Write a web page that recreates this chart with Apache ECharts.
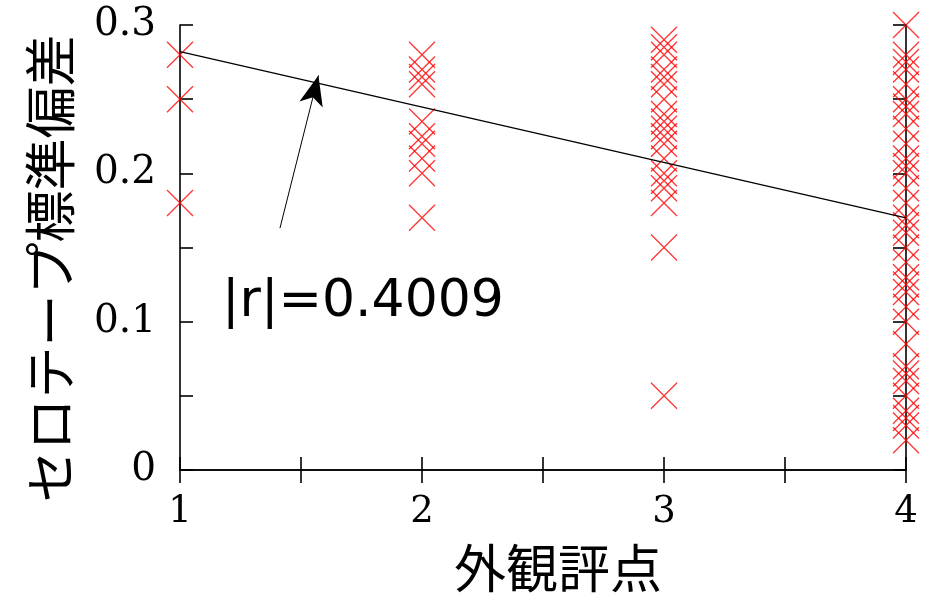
<!DOCTYPE html>
<html lang="ja">
<head>
    <meta charset="UTF-8">
    <title>外観評点とセロテープ標準偏差</title>
    <script src="https://cdn.jsdelivr.net/npm/echarts@6/dist/echarts.min.js"></script>
</head>
<body style="margin:0;background:#fff">
<div id="main" style="width: 927px;height: 599px"></div>
<script>
    var myChart = echarts.init(document.getElementById('main'));

    // 外観評点ごとのセロテープ標準偏差
    var scores = [1, 2, 3, 4];
    var sd1 = [0.28, 0.25, 0.18];
    var sd2 = [0.28, 0.27, 0.265, 0.26, 0.235, 0.225, 0.22, 0.21, 0.20, 0.17];
    var sd3 = [0.29, 0.285, 0.28, 0.27, 0.265, 0.26, 0.25, 0.24, 0.235, 0.23, 0.225, 0.22,
               0.21, 0.20, 0.195, 0.19, 0.18, 0.15, 0.05];
    var sd4 = [0.30, 0.28, 0.275, 0.27, 0.26, 0.25, 0.245, 0.24, 0.23, 0.22, 0.21, 0.205,
               0.20, 0.19, 0.18, 0.17, 0.165, 0.16, 0.15, 0.14, 0.13, 0.125, 0.12, 0.11,
               0.10, 0.085, 0.07, 0.065, 0.06, 0.05, 0.04, 0.035, 0.03, 0.02];
    // 回帰直線の両端
    var fitX = [1, 4];
    var fitY = [0.282, 0.170];
    var rText = '|r|=0.4009';

    var groups = [sd1, sd2, sd3, sd4];
    var points = [];
    groups.forEach(function (arr, i) {
        arr.forEach(function (v) { points.push([scores[i], v]); });
    });
    var fitData = fitX.map(function (x, i) { return [x, fitY[i]]; });

    var cross = 'path://M0,0L10,10M10,0L0,10';
    var numFont = 'DejaVu Serif';
    var jpFont = 'Noto Sans CJK JP';

    function isWhole(v, k) {
        return Math.abs(v * k - Math.round(v * k)) < 1e-6;
    }

    var frameAxis = {
        axisLine: {show: true, lineStyle: {color: '#000', width: 1.6}},
        axisTick: {show: true, inside: true, length: 13, lineStyle: {color: '#000', width: 1.6}},
        splitLine: {show: false}
    };

    option = {
        backgroundColor: '#fff',
        animation: false,
        grid: {left: 180, right: 21, top: 25, bottom: 125},
        xAxis: [
            Object.assign({
                type: 'value', min: 1, max: 4, interval: 0.5, position: 'bottom',
                name: '外観評点', nameLocation: 'middle', nameGap: 72,
                nameTextStyle: {fontFamily: jpFont, fontSize: 52, color: '#000', padding: [0, 0, 0, 30]},
                axisLabel: {
                    margin: 24, color: '#000', fontFamily: numFont, fontSize: 37,
                    formatter: function (v) { return isWhole(v, 1) ? String(v) : ''; }
                }
            }, frameAxis),
            Object.assign({
                type: 'value', min: 1, max: 4, interval: 0.5, position: 'top',
                axisLabel: {show: false}
            }, frameAxis)
        ],
        yAxis: [
            Object.assign({
                type: 'value', min: 0, max: 0.3, interval: 0.05, position: 'left',
                name: 'セロテープ標準偏差', nameLocation: 'middle', nameGap: 104,
                nameTextStyle: {fontFamily: jpFont, fontSize: 52, color: '#000', padding: [0, 42, 0, 0]},
                axisLabel: {
                    margin: 24, color: '#000', fontFamily: numFont, fontSize: 39,
                    formatter: function (v) { return isWhole(v, 10) ? String(Math.round(v * 10) / 10) : ''; }
                }
            }, frameAxis),
            Object.assign({
                type: 'value', min: 0, max: 0.3, interval: 0.05, position: 'right',
                axisLabel: {show: false}
            }, frameAxis)
        ],
        graphic: [{
            type: 'text', left: 222, top: 276, z: 10,
            style: {text: rText, font: '52px "DejaVu Sans"', fill: '#000'}
        }],
        series: [{
            type: 'scatter',
            data: points,
            symbol: cross,
            symbolSize: 26,
            clip: false,
            itemStyle: {color: 'none', borderColor: '#ff0000', borderWidth: 1.3},
            z: 2
        }, {
            type: 'line',
            data: fitData,
            symbol: 'none',
            lineStyle: {color: '#000', width: 1.3},
            z: 3,
            markLine: {
                silent: true,
                symbol: ['none', 'arrow'],
                symbolSize: [18, 30],
                label: {show: false},
                lineStyle: {color: '#000', width: 1, type: 'solid'},
                data: [[{coord: [1.413, 0.163]}, {coord: [1.572, 0.266]}]]
            }
        }]
    };
    myChart.setOption(option);
</script>
</body>
</html>
